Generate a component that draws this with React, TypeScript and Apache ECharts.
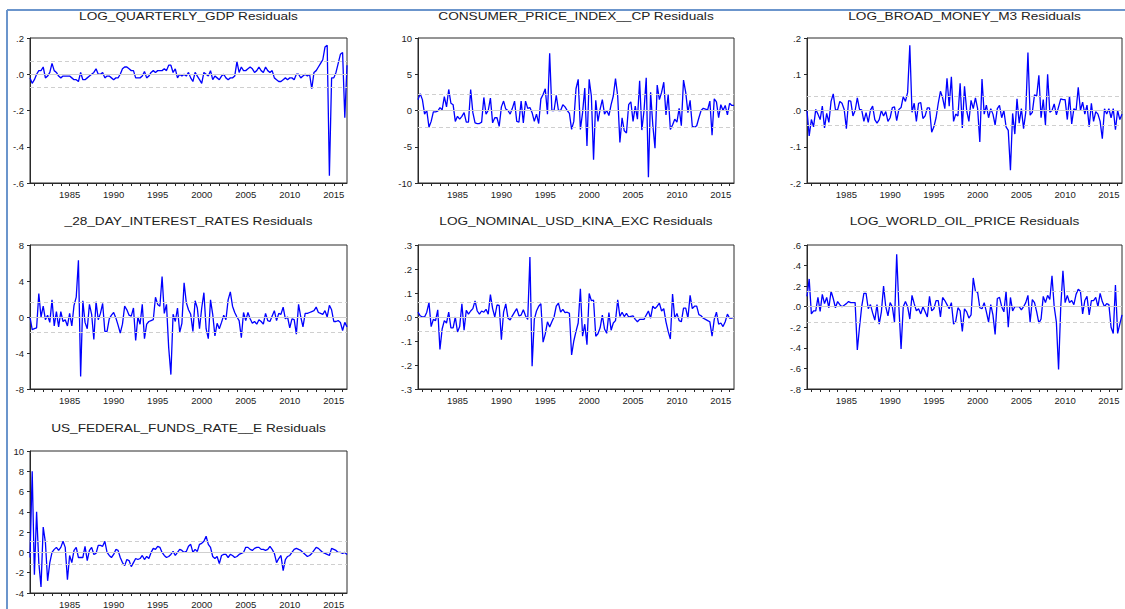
import React, { useEffect, useRef } from "react";
import * as echarts from "echarts";

// Quarterly sample 1980Q3 – 2016Q3
const quarterLabels: string[] = [];
for (let y = 1980, q = 3; y < 2016 || (y === 2016 && q <= 3); q === 4 ? (y++, (q = 1)) : q++) {
  quarterLabels.push(`${y}Q${q}`);
}

const gdpResid = [
  -0.02, -0.05, -0.03, 0.0, 0.02, 0.02, 0.04, -0.02, -0.01, 0.01,
  0.06, 0.02, 0.01, -0.01, -0.02, -0.01, -0.01, -0.01, -0.01, -0.02,
  -0.03, -0.03, -0.04, 0.01, -0.03, -0.03, -0.02, -0.01, 0.0, 0.01,
  0.03, 0.0, 0.0, 0.01, -0.02, -0.01, -0.01, -0.02, -0.03, -0.02,
  -0.02, 0.0, 0.03, 0.04, 0.04, 0.03, 0.02, 0.02, -0.02, -0.02,
  -0.02, -0.01, 0.015, -0.02, -0.01, 0.01, 0.02, 0.01, 0.02, 0.02,
  0.02, 0.03, 0.02, 0.05, 0.05, 0.01, 0.03, -0.02, 0.0, -0.01,
  0.0, -0.01, 0.01, -0.02, -0.04, 0.01, -0.01, -0.03, -0.05, 0.01,
  0.0, -0.01, 0.02, -0.03, -0.01, -0.02, -0.03, -0.01, 0.0, -0.02,
  -0.03, -0.02, -0.02, -0.01, 0.07, 0.01, 0.04, 0.02, 0.02, 0.03,
  0.04, 0.03, 0.01, 0.02, 0.04, 0.02, 0.01, 0.04, 0.02, 0.01,
  0.02, -0.02, -0.03, -0.04, -0.04, -0.03, -0.02, -0.03, -0.02, -0.02,
  -0.03, 0.0, 0.0, -0.02, -0.01, 0.0, -0.01, 0.0, -0.08, 0.01,
  0.02, 0.04, 0.06, 0.08, 0.15, 0.16, -0.56, -0.02, -0.02, 0.01,
  0.06, 0.11, 0.12, -0.24, 0.05,
];

const cpiResid = [
  1.5, 2.3, 1.5, -0.5, 0, -2.3, -1.5, -0.2, -0.2, -0.1,
  0.4, 0.1, 1.9, 0.5, 2.9, 1.0, 0.8, -1.5, -0.8, -1.2,
  -0.8, -0.3, -1.6, -1.6, 2.9, -0.3, -1.7, -1.8, -1.8, -1.6,
  1.8, -0.5, 0.0, 1.7, -1.7, -1.0, -1.0, -2.2, 0.5, 1.3,
  0.2, 0, -0.5, 0.3, 1.3, -1.5, -1.6, 1.3, -1.7, 1.3,
  0.3, 0.4, -0.3, -1.5, -0.5, -1.8, 1.6, 2.2, 3.0, -0.5,
  7.9, 0, 0, 2.1, 0, 0, 0.8, 0.5, 0, -0.4,
  -2.6, -1.5, 3.0, 4.3, -2.6, -0.3, 3.1, -4.9, 4.3, 2.0,
  -6.8, 1.4, -1.5, 0.2, 1.5, -0.5, 0, -0.7, 0.8, 2.0,
  4.4, 2.0, -4.4, -1.0, -2.8, -3.1, 0.8, 1.2, -1.5, 0.6,
  -1.2, 4.1, -2.7, 0, 4.5, -9.2, 2.5, -2.0, -5.2, 3.5,
  1.5, 2.5, 3.9, -0.6, 2.2, -2.6, -2.0, -1.2, -1.6, 0.3,
  -2.1, 4.2, 2.5, -0.3, 1.4, -2.2, -2.3, -2.1, -1.0, 0,
  0.3, 0.2, 0.1, 1.3, -3.4, 1.6, 1.2, -1.0, 0.8, 0,
  0.7, -0.6, 1.0, 0.7, 0.7,
];

const m3Resid = [
  0.0, -0.07, -0.025, -0.045, 0.003, -0.01, -0.025, 0.012, -0.048, -0.008,
  -0.033, 0.025, 0.046, 0.002, 0.002, 0.025, 0.02, 0.003, -0.05, 0.027,
  0.026, -0.015, 0.0, 0.035, 0.003, 0.002, -0.03, -0.006, -0.033, 0.001,
  0.012, -0.025, -0.035, -0.025, 0.0, -0.015, -0.003, -0.03, -0.02, 0.008,
  0.01, -0.028, 0.003, 0.008, 0.038, 0.025, 0.05, 0.18, -0.005, 0.02,
  -0.03, 0.02, 0.022, -0.022, -0.015, 0.007, 0.007, -0.06, -0.045, -0.02,
  0.02, 0.053, 0.035, 0.005, 0.089, 0.012, 0.093, -0.03, -0.01, -0.015,
  0.075, -0.048, 0.067, 0.0, -0.03, 0.028, 0.005, 0.035, 0.005, -0.087,
  0.087, -0.01, 0.015, -0.02, 0.005, -0.01, -0.04, 0.005, 0.014, -0.02,
  0.0, -0.045, -0.055, -0.165, -0.008, -0.065, 0.032, -0.035, 0.005, -0.05,
  -0.005, 0.16, -0.013, -0.005, 0.043, 0.04, 0.097, -0.02, 0.03, -0.04,
  0.1, -0.005, 0.0, 0.018, -0.012, 0.01, 0.032, 0.03, 0.03, -0.025,
  0.04, -0.037, 0.005, 0.0, 0.064, 0.0, 0.023, -0.01, 0.015, -0.045,
  0.02, -0.03, -0.003, -0.01, -0.03, -0.078, 0.005, -0.01, 0.005, -0.02,
  0.005, -0.053, 0.0, -0.025, -0.01,
];

const rate28Resid = [
  0.0, -1.4, -1.3, -1.2, 2.6, 0.0, 1.2, -0.3, 0.2, -0.6,
  1.9, -1.0, 0.6, -1.1, 0.6, -0.5, -0.3, -1.0, 0.4, -1.0,
  1.3, 2.2, 6.3, -6.6, 1.8, -0.6, -1.3, 1.4, 0.3, -2.5,
  1.7, -0.3, 0.4, 1.5, -1.6, -1.6, -0.2, 0.2, 0.5, -0.1,
  -0.9, -1.8, -0.8, 1.2, 0.8, 0.2, 0.1, 1.0, -2.6, 0.0,
  -0.8, 1.4, -2.4, -0.8, -0.5, -0.4, -0.3, 2.2, 1.4, 1.2,
  4.5, 0.4, 1.4, -3.4, -6.4, 0.3, -0.5, 1.0, -1.7, -0.7,
  3.8, 1.6, 0.8, 0.3, -1.6, 1.8, 1.0, -1.3, 1.0, 2.7,
  -1.3, -2.4, 1.9, 0.3, -2.1, -0.7, -1.3, -0.6, 0.2, -0.3,
  1.9, 2.8, 1.2, 0.5, 0.0, -0.4, -2.3, 0.5, -0.4, 0.5,
  -0.2, -0.7, -0.5, -0.8, -0.3, -0.5, -0.8, 0.4, -0.4, -0.5,
  0.1, 0.7, -0.4, 0.4, 0.3, 1.1, -0.2, 0.0, -1.2, -0.2,
  -0.3, -1.9, 1.4, 0.0, -1.1, 0.4, 0.4, 0.5, 0.6, 0.7,
  1.1, 0.5, 0.4, 0.3, 0.7, 0.0, 1.3, 0.8, -0.5, -0.5,
  -0.4, -0.6, -1.5, -0.6, -1.1,
];

const kinaResid = [
  0.02, 0.005, 0.0, 0.0, 0.02, 0.06, -0.04, -0.01, -0.015, 0.03,
  -0.135, -0.05, -0.015, -0.025, 0.02, -0.045, -0.045, 0.0, -0.062, -0.04,
  0.055, -0.055, 0.028, 0.012, 0.025, 0.035, 0.067, 0.025, 0.012, 0.025,
  0.02, 0.032, 0.012, 0.093, 0.035, 0.0, 0.05, 0.048, -0.095, 0.02,
  0.055, -0.005, -0.012, 0.005, 0.02, 0.035, 0.005, 0.008, 0.03, 0.005,
  -0.01, 0.25, -0.205, -0.01, 0.025, 0.045, 0.055, -0.105, -0.07, -0.02,
  -0.042, -0.02, 0.0, 0.045, 0.058, 0.02, 0.032, 0.018, 0.02, 0.015,
  -0.158, -0.1, -0.06, -0.025, 0.118, -0.08, -0.03, -0.115, 0.098, 0.068,
  0.07, -0.08, -0.07, -0.045, 0.008, -0.05, -0.068, 0.018, -0.055, -0.025,
  -0.015, 0.072, 0.002, 0.02, 0.002, 0.015, 0.0, 0.003, 0.005, -0.01,
  -0.02, -0.01, -0.01, -0.01, 0.008, 0.025, -0.005, 0.045, 0.035, 0.045,
  0.058, 0.025, 0.035, -0.02, -0.06, -0.092, 0.096, -0.005, 0.015, -0.015,
  -0.02, 0.037, 0.037, -0.005, 0.09, 0.035, 0.045, 0.045, 0.01, 0.005,
  -0.005, -0.01, -0.015, -0.02, -0.08, -0.01, 0.02, -0.03, -0.025, -0.04,
  -0.02, 0.012, -0.005, -0.005, 0.0,
];

const oilResid = [
  0.1, 0.27, -0.07, -0.04, -0.04, 0.09, -0.045, 0.12, 0.03, 0.09,
  -0.01, 0.15, 0.08, -0.01, 0.05, 0.02, 0.0, 0.015, 0.03, 0.05,
  0.04, 0.04, 0.04, -0.42, -0.2, 0.0, 0.13, 0.13, -0.02, 0.02,
  -0.06, -0.13, 0.02, -0.17, -0.05, 0.2, 0.0, -0.09, 0.04, 0.0,
  -0.15, 0.51, 0.0, -0.41, 0.0, 0.05, 0.0, -0.12, 0.11, 0.03,
  -0.04, -0.02, -0.07, 0.0, -0.05, -0.1, 0.1, -0.04, -0.02, 0.06,
  0.06, -0.1, 0.09, 0.06, 0.02, -0.02, 0.04, -0.17, -0.14, -0.01,
  -0.04, -0.24, -0.02, -0.05, -0.11, -0.08, 0.28, 0.15, 0.14, -0.01,
  -0.02, 0.04, -0.05, -0.15, 0.02, -0.08, -0.27, 0.08, 0.09, 0.0,
  -0.05, 0.15, -0.2, 0.09, -0.04, 0.0, 0.0, 0.0, -0.03, 0.0,
  0.04, 0.11, -0.15, 0.07, 0.04, -0.05, -0.16, -0.12, 0.1, 0.04,
  0.11, 0.07, 0.3, 0.0, -0.15, -0.61, 0.0, 0.35, 0.04, 0.11,
  0.04, 0.06, 0.02, 0.12, 0.17, 0.15, -0.07, 0.06, 0.1, -0.08,
  0.06, 0.06, 0.09, 0.0, 0.13, 0.05, 0.0, 0.03, 0.02, -0.2,
  -0.26, 0.21, -0.26, -0.17, -0.08,
];

const fedResid = [
  -0.5, 8.0, -2.2, 4.0, -1.0, -3.4, 2.5, 1.0, -2.8, -1.0,
  0.0, 0.3, 0.5, 0.2, 0.5, 1.1, 0.5, -2.7, -0.3, -1.0,
  0.2, 0.5, -0.5, -0.5, -0.5, 0.6, -0.8, 0.2, 0.5, -0.2,
  -0.1, 0.7, 0.7, 0.6, 1.1, 0.0, -0.3, -0.5, -0.2, 0.3,
  0.2, -0.5, -1.0, -1.3, -0.7, -0.8, -1.4, -1.0, -0.6, -0.7,
  -0.6, -0.3, -0.7, -0.4, -0.6, 0.0, 0.4, 0.3, 0.6, 0.5,
  0.0, -0.3, -0.5, -0.4, -0.2, 0.1, -0.3, 0.0, 0.3, 0.2,
  0.0, 0.1, 0.6, 0.8, 0.0, 0.3, 0.1, 0.8, 0.9, 1.1,
  1.6, 0.8, 0.5, -0.4, -0.6, -0.4, -1.1, -0.3, -0.2, -0.2,
  -0.5, -0.2, -0.3, -0.5, -0.4, -0.2, -0.1, 0.0, 0.5, 0.5,
  0.3, 0.2, 0.4, 0.5, 0.5, 0.3, 0.3, 0.2, 0.3, 0.6,
  0.3, -0.1, -1.0, -0.6, -0.3, -1.8, -0.7, -0.4, -0.3, 0.0,
  0.3, 0.4, 0.3, 0.2, 0.0, -0.2, -0.4, -0.3, -0.1, 0.2,
  0.5, 0.4, 0.2, 0.0, -0.1, -0.2, -0.3, 0.4, 0.3, 0.2,
  0.0, 0.0, -0.1, 0.0, -0.2,
];

const panelTitles = [
  "LOG_QUARTERLY_GDP Residuals",
  "CONSUMER_PRICE_INDEX__CP Residuals",
  "LOG_BROAD_MONEY_M3 Residuals",
  "_28_DAY_INTEREST_RATES Residuals",
  "LOG_NOMINAL_USD_KINA_EXC Residuals",
  "LOG_WORLD_OIL_PRICE Residuals",
  "US_FEDERAL_FUNDS_RATE__E Residuals",
];
const panelSeries = [gdpResid, cpiResid, m3Resid, rate28Resid, kinaResid, oilResid, fedResid];
// ± one standard error of regression, drawn as dashed bands
const seBands = [0.065, 2.3, 0.044, 1.65, 0.056, 0.146, 1.12];
const yMins = [-0.6, -10, -0.2, -8, -0.3, -0.8, -4];
const yMaxs = [0.2, 10, 0.2, 8, 0.3, 0.6, 10];
const yIntervals = [0.2, 5, 0.1, 4, 0.1, 0.2, 2];
const decimalLabels = [true, false, true, false, true, true, false];

// plot boxes (left, top, width, height) and title centres
const boxes = [
  [30, 38, 317, 145],
  [418, 38, 316, 145],
  [807, 38, 315, 145],
  [30, 245, 317, 144],
  [418, 245, 316, 144],
  [807, 245, 315, 144],
  [30, 451, 317, 146],
];
const titleY = [17, 17, 17, 222, 222, 222, 429];

const FONT = "'Liberation Sans', Arial, Helvetica, sans-serif";

function fmtDecimal(v: number): string {
  const s = v.toFixed(1);
  if (s === "0.0" || s === "-0.0") return ".0";
  return s.replace("0.", ".");
}

function buildOption(): echarts.EChartsOption {
  const grid: any[] = [];
  const xAxis: any[] = [];
  const yAxis: any[] = [];
  const series: any[] = [];
  const graphic: any[] = [];

  boxes.forEach((b, i) => {
    grid.push({
      left: b[0],
      top: b[1],
      width: b[2],
      height: b[3],
      show: true,
      borderColor: "#2a2a2a",
      borderWidth: 1,
      backgroundColor: "#fff",
      containLabel: false,
    });
    xAxis.push({
      type: "category",
      gridIndex: i,
      data: quarterLabels,
      boundaryGap: false,
      axisLine: { show: true, onZero: false, lineStyle: { color: "#2a2a2a", width: 1 } },
      axisTick: {
        show: true,
        inside: false,
        length: 3,
        interval: (_idx: number, val: string) => val.endsWith("Q1"),
        lineStyle: { color: "#2a2a2a" },
      },
      axisLabel: {
        show: true,
        interval: (_idx: number, val: string) =>
          val.endsWith("Q1") && parseInt(val.slice(0, 4), 10) % 5 === 0,
        formatter: (val: string) => val.slice(0, 4),
        fontFamily: FONT,
        fontSize: 9.5,
        color: "#222",
        margin: 6,
      },
      splitLine: { show: false },
    });
    yAxis.push({
      type: "value",
      gridIndex: i,
      min: yMins[i],
      max: yMaxs[i],
      interval: yIntervals[i],
      axisLine: { show: true, onZero: false, lineStyle: { color: "#2a2a2a", width: 1 } },
      axisTick: { show: true, inside: false, length: 3, lineStyle: { color: "#2a2a2a" } },
      axisLabel: {
        fontFamily: FONT,
        fontSize: 9.5,
        color: "#222",
        margin: 6,
        formatter: decimalLabels[i] ? (v: number) => fmtDecimal(v) : (v: number) => String(Math.round(v)),
      },
      splitLine: { show: false },
    });
    // reference lines: zero and ± S.E.
    series.push({
      type: "line",
      xAxisIndex: i,
      yAxisIndex: i,
      data: [],
      z: 1,
      silent: true,
      markLine: {
        silent: true,
        symbol: "none",
        label: { show: false },
        animation: false,
        data: [
          { yAxis: 0, lineStyle: { type: "solid", color: "#cfcfcf", width: 1 } },
          { yAxis: seBands[i], lineStyle: { type: [4, 3], color: "#cfcfcf", width: 1 } },
          { yAxis: -seBands[i], lineStyle: { type: [4, 3], color: "#cfcfcf", width: 1 } },
        ],
      },
    });
    series.push({
      type: "line",
      name: panelTitles[i],
      xAxisIndex: i,
      yAxisIndex: i,
      data: panelSeries[i],
      z: 3,
      showSymbol: false,
      symbol: "none",
      lineStyle: { color: "#0000ff", width: 1.3 },
      silent: true,
    });
    graphic.push({
      type: "text",
      x: b[0] + b[2] / 2,
      y: titleY[i],
      scaleX: 1.3,
      style: {
        text: panelTitles[i],
        fill: "#222",
        font: `10.5px ${FONT}`,
        align: "center",
        verticalAlign: "middle",
      },
    });
  });

  // outer page frame
  graphic.push({
    type: "line",
    shape: { x1: 7, y1: 10, x2: 1125, y2: 10 },
    style: { stroke: "#6b95cc", lineWidth: 2 },
  });
  graphic.push({
    type: "line",
    shape: { x1: 7, y1: 10, x2: 7, y2: 609 },
    style: { stroke: "#6b95cc", lineWidth: 2 },
  });

  return {
    animation: false,
    backgroundColor: "#fff",
    grid,
    xAxis,
    yAxis,
    series,
    graphic,
  };
}

export default function App() {
  const ref = useRef<HTMLDivElement>(null);
  useEffect(() => {
    if (!ref.current) return;
    const chart = echarts.init(ref.current, null, { renderer: "svg" });
    chart.setOption(buildOption());
    return () => chart.dispose();
  }, []);
  return (
    <div
      ref={ref}
      style={{ position: "fixed", left: 0, top: 0, width: 1125, height: 609, background: "#fff" }}
    />
  );
}
